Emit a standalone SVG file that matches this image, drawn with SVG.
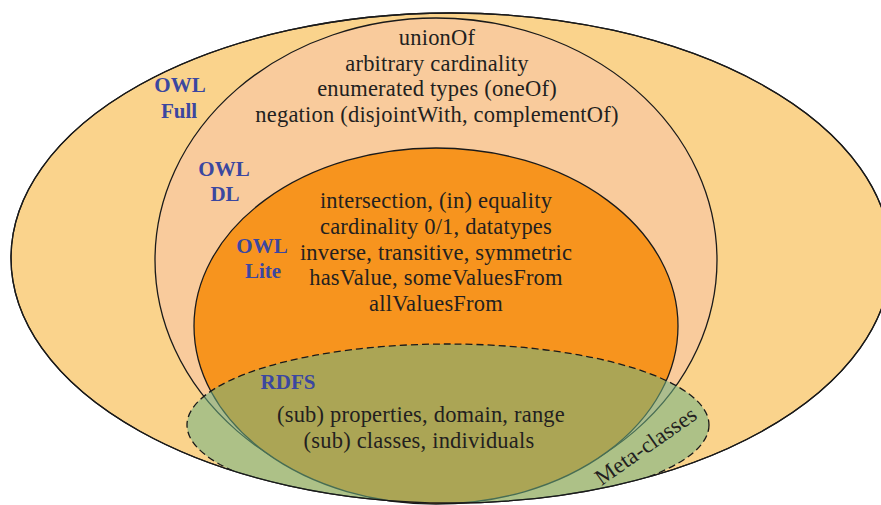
<svg xmlns="http://www.w3.org/2000/svg" width="881" height="505" viewBox="0 0 881 505">
  <style>
    .set { stroke: #1a1a1a; stroke-width: 1.3; }
    .body { font-family: "Liberation Serif", "Times New Roman", serif; font-size: 22.5px; letter-spacing: 0.2px; fill: #231f20; text-anchor: middle; }
    .label { font-family: "Liberation Serif", "Times New Roman", serif; font-size: 21px; font-weight: bold; fill: #3b47a0; text-anchor: middle; }
  </style>
  <defs>
    <ellipse id="full-shape" cx="451" cy="258" rx="440" ry="245"/>
    <clipPath id="full-clip">
      <use href="#full-shape"/>
    </clipPath>
  </defs>
  <rect width="881" height="505" fill="#ffffff"/>

  <g id="owl-full">
    <use href="#full-shape" class="set" fill="#fad38c"/>
    <text class="label" x="180" y="92">OWL</text>
    <text class="label" x="179" y="118">Full</text>
  </g>

  <g id="owl-dl">
    <ellipse class="set" cx="436" cy="260" rx="281" ry="242" fill="#f9cb9c"/>
    <text class="label" x="224" y="176">OWL</text>
    <text class="label" x="225" y="201">DL</text>
    <text class="body" x="437" y="45">unionOf</text>
    <text class="body" x="437" y="71">arbitrary cardinality</text>
    <text class="body" x="437" y="96">enumerated types (oneOf)</text>
    <text class="body" x="437" y="122">negation (disjointWith, complementOf)</text>
  </g>

  <g id="owl-lite">
    <ellipse class="set" cx="436" cy="326" rx="242" ry="178" fill="#f7941e"/>
    <text class="label" x="262" y="253">OWL</text>
    <text class="label" x="263" y="278">Lite</text>
    <text class="body" x="436" y="208">intersection, (in) equality</text>
    <text class="body" x="436" y="234">cardinality 0/1, datatypes</text>
    <text class="body" x="436" y="260">inverse, transitive, symmetric</text>
    <text class="body" x="436" y="285">hasValue, someValuesFrom</text>
    <text class="body" x="436" y="311">allValuesFrom</text>
  </g>

  <g id="rdfs">
    <!-- translucent RDFS set, trimmed to the OWL Full boundary -->
    <g clip-path="url(#full-clip)">
      <ellipse cx="448" cy="425" rx="261" ry="81" fill="#6db384" fill-opacity="0.55" stroke="#1a1a1a" stroke-width="1.3" stroke-dasharray="7 4"/>
    </g>
    <!-- OWL Full outline redrawn over the RDFS fill -->
    <use href="#full-shape" class="set" fill="none"/>
    <text class="label" x="288" y="389">RDFS</text>
    <text class="body" x="421" y="422">(sub) properties, domain, range</text>
    <text class="body" x="419" y="448">(sub) classes, individuals</text>
    <text class="body" transform="translate(650 452) rotate(-35)" x="0" y="0">Meta-classes</text>
  </g>

  <g id="connectors"/>
</svg>
